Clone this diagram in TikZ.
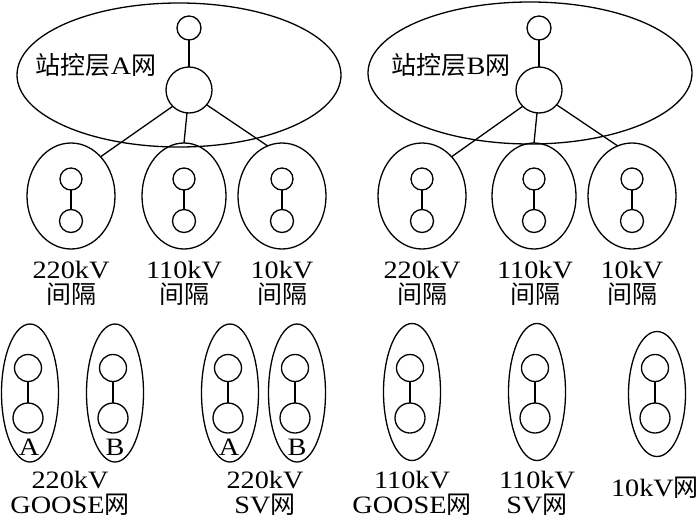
\documentclass[tikz,border=0pt]{standalone}
\usepackage{fontspec}
\setmainfont{Liberation Serif}[FakeStretch=1.13]
\newfontfamily\cjk{Noto Sans CJK SC}
\usetikzlibrary{shapes.geometric}
\begin{document}
\begin{tikzpicture}[x=1pt,y=-1pt,
  every node/.style={inner sep=0pt,outer sep=0pt},
  net/.style={draw,ellipse,line width=1.3pt},
  dev/.style={draw,circle,line width=1.3pt},
  wire/.style={line width=1.3pt},
  lbl/.style={font=\fontsize{25}{25}\selectfont,align=center},
]
\useasboundingbox (0,0) rectangle (700,519);

% station-level networks
\node[net,minimum width=324pt,minimum height=144pt] (netA) at (179,75) {};
\node[dev,minimum size=24pt] (topA) at (189,28) {};
\node[dev,minimum size=46pt] (hubA) at (189,90) {};
\node[lbl] (tA) at (96,65) {{\cjk 站控层}A{\cjk 网}};
\draw[wire] (topA) -- (hubA);

\node[net,minimum width=324pt,minimum height=142pt] (netB) at (530,73) {};
\node[dev,minimum size=24pt] (topB) at (539,28) {};
\node[dev,minimum size=46pt] (hubB) at (539,90) {};
\node[lbl] (tB) at (451,65) {{\cjk 站控层}B{\cjk 网}};
\draw[wire] (topB) -- (hubB);

% bays
\foreach \n/\x/\w in {A1/71/88, A2/184/84, A3/282/88, B1/422/88, B2/534/84, B3/632/88}{
  \node[net,minimum width=\w pt,minimum height=106pt] (b\n) at (\x,196) {};
  \node[dev,minimum size=22pt] (b\n t) at (\x,179) {};
  \node[dev,minimum size=23pt] (b\n b) at (\x,221) {};
  \draw[wire] (b\n t) -- (b\n b);
}
\draw[wire] (hubA.-135) -- (bA1.53);
\draw[wire] (hubA.-95) -- (bA2.north);
\draw[wire] (hubA.-40) -- (bA3.106);
\draw[wire] (hubB.-135) -- (bB1.53);
\draw[wire] (hubB.-95) -- (bB2.north);
\draw[wire] (hubB.-40) -- (bB3.106);

\node[lbl] (lA1) at (71,283) {220kV\\{\cjk 间隔}};
\node[lbl] (lA2) at (184,283) {110kV\\{\cjk 间隔}};
\node[lbl] (lA3) at (282,283) {10kV\\{\cjk 间隔}};
\node[lbl] (lB1) at (422,283) {220kV\\{\cjk 间隔}};
\node[lbl] (lB2) at (535,283) {110kV\\{\cjk 间隔}};
\node[lbl] (lB3) at (632,283) {10kV\\{\cjk 间隔}};

% process-level networks
\foreach \n/\x/\h/\y in {G1/30/138/393, G2/115/138/393, S1/230/138/393, S2/297/138/393, G3/412/137/392, S3/537/137/392, T/657/125/394}{
  \node[net,minimum width=57pt,minimum height=\h pt] (p\n) at (\x,\y) {};
  \node[dev,minimum size=27pt] (p\n t) at (\x-2,368) {};
  \node[dev,minimum size=30pt] (p\n b) at (\x-2,418) {};
  \draw[wire] (p\n t) -- (p\n b);
}
\node[lbl] (aG1) at (29,447) {A};
\node[lbl] (aG2) at (115,447) {B};
\node[lbl] (aS1) at (229,447) {A};
\node[lbl] (aS2) at (297,447) {B};

\node[lbl] (lG1) at (70,493) {220kV\\GOOSE{\cjk 网}};
\node[lbl] (lS1) at (265,493) {220kV\\SV{\cjk 网}};
\node[lbl] (lG3) at (412,493) {110kV\\GOOSE{\cjk 网}};
\node[lbl] (lS3) at (537,493) {110kV\\SV{\cjk 网}};
\node[lbl] (lT) at (655,488) {10kV{\cjk 网}};
\end{tikzpicture}
\end{document}
